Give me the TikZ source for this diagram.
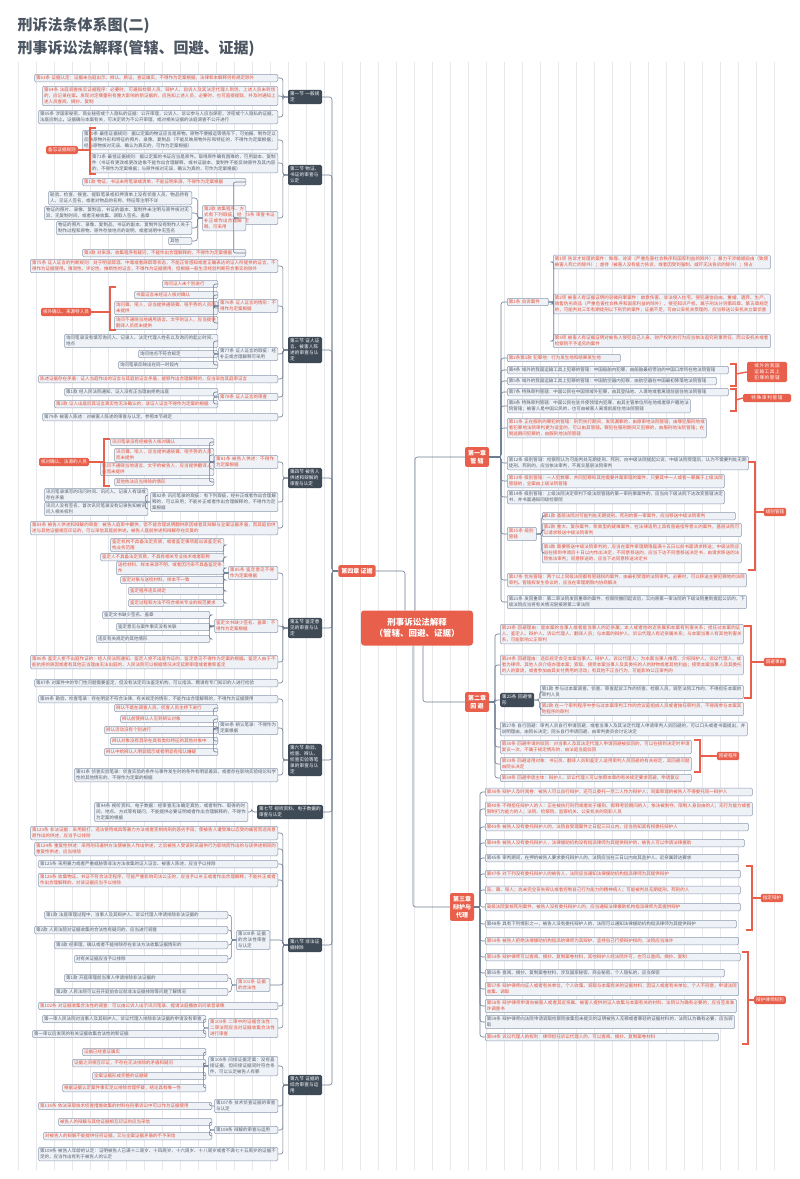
\documentclass[tikz,border=0pt]{standalone}
\usepackage{fontspec}
\setmainfont{Noto Sans CJK SC}
\XeTeXlinebreaklocale "zh"
\XeTeXlinebreakskip=0pt plus 1pt
\definecolor{org}{HTML}{E8604C}
\definecolor{rtx}{HTML}{E5503A}
\definecolor{gtx}{HTML}{55606E}
\definecolor{bd}{HTML}{8E9BB0}
\definecolor{bf}{HTML}{EEF1F6}
\definecolor{dk}{HTML}{3F4A57}
\definecolor{ln}{HTML}{6F7D92}
\definecolor{gr}{HTML}{E6E8EC}
\tikzset{
 base/.style={draw=bd,fill=bf,rounded corners=1.2,line width=0.5pt,inner sep=1.6pt,align=left,font=\fontsize{4.5}{6}\selectfont},
 gb/.style={base,text=gtx},
 rb/.style={base,text=rtx},
 tg/.style={fill=org,text=white,rounded corners=1.5,inner sep=2pt,align=center,font=\fontsize{4.6}{6}\selectfont},
 sc/.style={fill=dk,text=white,rounded corners=1.5,inner sep=2pt,align=left,font=\fontsize{4.6}{6}\selectfont},
 ch/.style={fill=org,text=white,rounded corners=2,inner sep=3pt,align=center,font=\fontsize{6}{8}\selectfont\bfseries},
 conn/.style={draw=ln,line width=0.6pt,rounded corners=2.5},
 ob/.style={draw=org,line width=1.4pt},
}
\newcommand\LL[6]{\node[#2,anchor=east,text width=#5] (#1) at (#3,#4) {#6};}
\newcommand\RL[6]{\node[#2,anchor=west,text width=#5] (#1) at (#3,#4) {#6};}
\newcommand\cl[2]{\draw[conn] (#1.west) -- ++(-5,0) |- (#2.east);}
\newcommand\cR[2]{\draw[conn] (#1.east) -- ++(5,0) |- (#2.west);}
\begin{document}
\begin{tikzpicture}[x=1pt,y=-1pt]
\useasboundingbox (0,0) rectangle (800,1179);
\fill[white] (0,0) rectangle (800,1179);
\draw[gr,line width=0.4pt] (12,62) grid[step=18] (790,1170);
\node[anchor=west,font=\fontsize{15}{17}\selectfont\bfseries,text=gtx!90!black] at (14,26) {刑诉法条体系图(二)};
\node[anchor=west,font=\fontsize{15}{17}\selectfont\bfseries,text=gtx!90!black] at (14,49) {刑事诉讼法解释(管辖、回避、证据)};
% center
\node[fill=org,text=white,rounded corners=3,minimum width=112,minimum height=35,align=center,font=\fontsize{8.5}{11}\selectfont\bfseries] (C) at (417,628) {刑事诉讼法解释\\（管辖、回避、证据）};
\node[ch] (ch4) at (357,571) {第四章 证据};
\node[ch] (ch1) at (477,457) {第一章\\管 辖};
\node[ch] (ch2) at (477,702) {第二章\\回 避};
\node[ch] (ch3) at (462,907) {第三章\\辩护与\\代理};
\draw[conn] ([xshift=-12pt]C.north) |- (ch4.east);
\draw[conn] ([xshift=-2pt]C.north) |- (ch1.west);
\draw[conn] ([xshift=6pt]C.south) |- (ch2.west);
\draw[conn] ([xshift=-4pt]C.south) |- (ch3.west);
% sections
\node[sc,text width=30] (s1) at (305,97) {第一节 一般规定};
\node[sc,text width=30] (s2) at (305,175) {第二节 物证、书证的审查与认定};
\node[sc,text width=30] (s3) at (305,350) {第三节 证人证言、被害人陈述的审查与认定};
\node[sc,text width=30] (s4) at (305,478) {第四节 被告人供述和辩解的审查与认定};
\node[sc,text width=30] (s5) at (305,628) {第五节 鉴定意见的审查与认定};
\node[sc,text width=30] (s6) at (305,760) {第六节 勘验、检查、辨认、侦查实验等笔录的审查与认定};
\node[sc,text width=62] (s7) at (290,812) {第七节 视听资料、电子数据的审查与认定};
\node[sc,text width=30] (s8) at (305,945) {第八节 非法证据排除};
\node[sc,text width=30] (s9) at (305,1085) {第九节 证据的综合审查与运用};
\foreach \s in {s1,s2,s3,s4,s5,s6,s7,s8,s9}{\draw[conn] (ch4.west) -- (332,571) |- (\s.east);}
% ---- section 1
\LL{a1}{rb}{278}{78}{240}{第61条 证据认定：证据未当庭出示、辨认、质证，查证属实，不得作为定案根据，法律和本解释另有规定除外}
\LL{a2}{rb}{278}{96}{232}{第64条 法庭调查核实证据程序：必要时，可通知检察人员、辩护人、自诉人及其法定代理人到场，上述人员未到场的，应记录在案。发现对定罪量刑有重大影响的新证据的，应告知上述人员，必要时，也可直接提取，并及时通知上述人员查阅、摘抄、复制}
\LL{a3}{gb}{278}{117}{236}{第65条 涉国家秘密、商业秘密或个人隐私的证据：公开审理，公诉人、诉讼参与人应当保密，涉密或个人隐私的证据，法庭应制止。证据确与本案有关，可决定转为不公开审理，或对相关证据的法庭调查不公开进行}
\foreach \c in {a1,a2,a3}{\cl{s1}{\c}}
% ---- section 2
\LL{b1}{gb}{278}{140}{192}{第70条 最佳证据规则：据以定案的物证应当是原物。原物不便搬运等情形下，可拍摄、制作足以反映原物外形和特征的照片、录像、复制品（不能反映原物外形和特征的，不得作为定案根据；经与原物核对无误、确认为真实的，可作为定案根据）}
\LL{b2}{gb}{278}{163}{184}{第71条 最佳证据规则：据以定案的书证应当是原件。取得原件确有困难的，可用副本、复制件（书证有更改或更改迹象不能作出合理解释，或书证副本、复制件不能反映原件及其内容的，不得作为定案根据；与原件核对无误，确认为真的，可作为定案根据）}
\node[tg] (tb) at (62,150) {备忘证据规则};
\draw[ob] (96,128) -- (90,128) -- (90,174) -- (96,174); \draw[ob] (tb.east) -- (90,150);
\LL{b3}{rb}{278}{218}{36}{第73条 审查书证规定}
\LL{c1}{rb}{246}{182}{160}{第1款 物证、书证未附笔录或清单，不能证明来源，不得作为定案根据}
\LL{c2}{rb}{246}{218}{40}{第2款 收集程序、方式有下列瑕疵，经补正或作出合理解释，可采用}
\LL{c3}{rb}{246}{253}{160}{第3款 对来源、收集程序有疑问，不能作出合理解释的，不得作为定案根据}
\foreach \c in {b1,b2,b3}{\cl{s2}{\c}}
\foreach \c in {c1,c2,c3}{\cl{b3}{\c}}
\LL{c21}{gb}{192}{198}{140}{勘验、检查、搜查、提取笔录或扣押清单上没有侦查人员、物品持有人、见证人签名，或者对物品的名称、特征等注明不详}
\LL{c22}{gb}{192}{213}{144}{物证的照片、录像、复制品，书证的副本、复制件未注明与原件核对无异，无复制时间，或者无被收集、调取人签名、盖章}
\LL{c23}{gb}{192}{228}{132}{物证的照片、录像、复制品，书证的副本、复制件没有制作人关于制作过程和原物、原件存放地点的说明，或者说明中无签名}
\LL{c24}{gb}{192}{241}{20}{其他}
\foreach \c in {c21,c22,c23,c24}{\cl{c2}{\c}}
% ---- section 3
\LL{d1}{rb}{278}{266}{244}{第75条 证人证言的判断规则：处于明显醉酒、中毒或者麻醉等状态，不能正常感知或者正确表达的证人所提供的证言，不得作为证据使用。猜测性、评论性、推断性的证言，不得作为证据使用，但根据一般生活经验判断符合事实的除外}
\LL{d2}{rb}{278}{306}{56}{第76条 证人证言的情形：不得作为定案根据}
\LL{d21}{rb}{218}{284}{52}{询问证人未个别进行}
\LL{d22}{rb}{218}{295}{80}{书面证言未经证人核对确认}
\LL{d23}{rb}{218}{308}{100}{询问聋、哑人，应当提供通晓聋、哑手势的人员而未提供}
\LL{d24}{rb}{218}{323}{100}{询问不通晓当地通用语言、文字的证人，应当提供翻译人员而未提供}
\foreach \c in {d21,d22,d23,d24}{\cl{d2}{\c}}
\node[tg] (td) at (66,312) {核外确认、来源特人员};
\draw[ob] (116,287) -- (110,287) -- (110,330) -- (116,330); \draw[ob] (td.east) -- (110,312);
\LL{d3}{gb}{278}{354}{56}{第77条 证人证言的瑕疵：经补正或合理解释可采用}
\LL{d31}{gb}{218}{341}{150}{询问笔录没有填写询问人、记录人、法定代理人姓名以及询问的起止时间、地点}
\LL{d32}{gb}{218}{354}{76}{询问地点不符合规定}
\LL{d33}{gb}{218}{365}{96}{询问笔录反映出在同一时段内}
\foreach \c in {d31,d32,d33}{\cl{d3}{\c}}
\LL{d4}{rb}{278}{379}{236}{陈述证据存在矛盾：证人当庭作出的证言与其庭前证言矛盾，能够作出合理解释的，应当采信其庭审证言}
\LL{d5}{rb}{278}{397}{56}{第78条 证人证言的审查}
\LL{d51}{gb}{218}{392}{150}{第1款 经人民法院通知，证人没有正当理由拒绝出庭}
\LL{d52}{rb}{218}{404}{160}{第2款 证人出庭后其证言真实性无法确认的，该证人证言不得作为定案的根据}
\foreach \c in {d51,d52}{\cl{d5}{\c}}
\LL{d6}{gb}{278}{417}{232}{第79条 被害人陈述：对被害人陈述的审查与认定，参照本节规定}
\foreach \c in {d1,d2,d3,d4,d5,d6}{\cl{s3}{\c}}
% ---- section 4
\LL{e1}{rb}{278}{462}{60}{第81条 被告人供述：不得作为定案根据}
\LL{e11}{rb}{214}{442}{100}{讯问笔录没有经被告人核对确认}
\LL{e12}{rb}{214}{455}{96}{讯问聋、哑人，应当提供通晓聋、哑手势的人员而未提供}
\LL{e13}{rb}{214}{469}{110}{讯问不通晓当地语言、文字的被告人，应当提供翻译人员而未提供}
\LL{e14}{rb}{214}{482}{96}{其他依法应当排除的情形}
\foreach \c in {e11,e12,e13,e14}{\cl{e1}{\c}}
\node[tg] (te) at (64,462) {核对确认、法源的人员};
\draw[ob] (110,439) -- (104,439) -- (104,486) -- (110,486); \draw[ob] (te.east) -- (104,462);
\LL{e2}{gb}{278}{502}{124}{第82条 讯问笔录的瑕疵：有下列瑕疵，经补正或者作出合理解释的，可以采用；不能补正或者作出合理解释的，不得作为定案根据}
\LL{e21}{gb}{148}{495}{100}{讯问笔录填写的讯问时间、讯问人、记录人有误或存在矛盾}
\LL{e22}{gb}{148}{509}{100}{讯问人没有签名，首次讯问笔录没有记录告知被讯问人相关权利}
\foreach \c in {e21,e22}{\cl{e2}{\c}}
\LL{e3}{rb}{278}{528}{244}{第83条 被告人供述和辩解的审查：被告人庭审中翻供，但不能合理说明翻供原因或者其辩解与全案证据矛盾，而其庭前供述与其他证据相互印证的，可以采信其庭前供述。被告人庭前供述和辩解存在反复的}
\foreach \c in {e1,e2,e3}{\cl{s4}{\c}}
% ---- section 5
\LL{f1}{rb}{278}{573}{46}{第85条 鉴定意见不得作为定案根据}
\foreach \yy/\w/\t in {545/110/鉴定机构不具备法定资质，或者鉴定事项超出该鉴定机构业务范围,557/120/鉴定人不具备法定资质，不具有相关专业技术或者职称,568/104/送检材料、样本来源不明，或者因污染不具备鉴定条件,580/100/鉴定对象与送检材料、样本不一致,591/92/鉴定程序违反规定,603/92/鉴定过程和方法不符合相关专业的规范要求}{\LL{f1x\yy}{rb}{224}{\yy}{\w}{\t}\cl{f1}{f1x\yy}}
\LL{f2}{rb}{278}{626}{60}{鉴定文书缺少签名、盖章：不得作为定案根据}
\foreach \yy/\w/\t in {615/104/鉴定文书缺少签名、盖章,627/90/鉴定意见与案件事实没有关联,639/110/违反有关规定的其他情形}{\LL{f2x\yy}{gb}{210}{\yy}{\w}{\t}\cl{f2}{f2x\yy}}
\LL{f3}{rb}{278}{662}{244}{第86条 鉴定人拒不出庭作证的：经人民法院通知，鉴定人拒不出庭作证的，鉴定意见不得作为定案的根据。鉴定人由于不能抗拒的原因或者有其他正当理由无法出庭的，人民法院可以根据情况决定延期审理或者重新鉴定}
\LL{f4}{gb}{278}{683}{240}{第87条 对案件中的专门性问题需要鉴定，但没有法定司法鉴定机构，可以指派、聘请有专门知识的人进行检验}
\foreach \c in {f1,f2,f3,f4}{\cl{s5}{\c}}
% ---- section 6
\LL{g0}{gb}{278}{699}{236}{第89条 勘验、检查笔录：存在明显不符合法律、有关规定的情形，不能作出合理解释的，不得作为证据使用}
\LL{g1}{gb}{278}{728}{56}{第90条 辨认笔录：不得作为定案根据}
\foreach \yy/\w/\t in {708/100/辨认不是在调查人员、侦查人员主持下进行,719/94/辨认前使辨认人见到辨认对象,730/110/辨认活动没有个别进行,741/104/辨认对象没有混杂在具有类似特征的其他对象中,752/110/辨认中给辨认人明显暗示或者明显有指认嫌疑}{\LL{g1x\yy}{rb}{218}{\yy}{\w}{\t}\cl{g1}{g1x\yy}}
\LL{g2}{gb}{278}{775}{200}{第91条 侦查实验笔录：侦查实验的条件与事件发生时的条件有明显差异，或者存在影响实验结论科学性的其他情形的，不得作为定案的根据}
\foreach \c in {g0,g1,g2}{\cl{s6}{\c}}
% ---- section 7
\LL{k1}{gb}{248}{812}{150}{第94条 视听资料、电子数据：经审查无法确定真伪，或者制作、取得的时间、地点、方式等有疑问，不能提供必要证明或者作出合理解释的，不得作为定案的根据}
\cl{s7}{k1}
% ---- section 8
\LL{h1}{rb}{278}{833}{244}{第123条 非法证据：采用殴打、违法使用戒具等暴力方法或者变相肉刑的恶劣手段，使被告人遭受难以忍受的痛苦而违背意愿作出的供述，应当予以排除}
\LL{h2}{rb}{278}{849}{240}{第124条 重复性供述：采用刑讯逼供方法使被告人作出供述，之后被告人受该刑讯逼供行为影响而作出的与该供述相同的重复性供述，应当排除}
\LL{h3}{gb}{278}{864}{236}{第125条 采用暴力或者严重威胁等非法方法收集的证人证言、被害人陈述，应当予以排除}
\LL{h4}{rb}{278}{880}{236}{第126条 收集物证、书证不符合法定程序，可能严重影响司法公正的，应当予以补正或者作出合理解释；不能补正或者作出合理解释的，对该证据应当予以排除}
\LL{h5}{gb}{270}{940}{30}{第100条 证据的合法性审查与认定}
\foreach \yy/\w/\t in {915/180/第1款 法庭审理过程中，当事人及其辩护人、诉讼代理人申请排除非法证据的,930/190/第2款 人民法院对证据收集的合法性有疑问的，应当进行调查,945/170/第3款 经审理，确认或者不能排除存在非法方法收集证据情形的,959/150/对有关证据应当予以排除}{\LL{h5x\yy}{gb}{228}{\yy}{\w}{\t}\cl{h5}{h5x\yy}}
\LL{h6}{rb}{270}{985}{30}{第101条 证据的合法性}
\foreach \yy/\w/\t in {978/160/第1款 开庭审理前当事人申请排除非法证据的,992/170/第2款 人民法院可以召开庭前会议就非法证据排除等问题了解情况}{\LL{h6x\yy}{gb}{228}{\yy}{\w}{\t}\cl{h6}{h6x\yy}}
\LL{h7}{rb}{278}{1006}{236}{第102条 对证据收集合法性的调查：可以由公诉人出示讯问笔录、提请法庭播放讯问录音录像}
\LL{h8}{rb}{278}{1028}{66}{第103条 二审中的证据合法性：二审法院应当对证据收集合法性进行审查}
\foreach \yy/\w/\t in {1019/160/第一审人民法院对当事人及其辩护人、诉讼代理人排除非法证据的申请没有审查,1034/170/第一审以后发现的有关证据收集合法性的新证据}{\LL{h8x\yy}{gb}{206}{\yy}{\w}{\t}\cl{h8}{h8x\yy}}
\foreach \c in {h1,h2,h3,h4,h5,h6,h7,h8}{\cl{s8}{\c}}
% ---- section 9
\LL{i1}{gb}{278}{1066}{66}{第105条 间接证据定案：没有直接证据，但间接证据同时符合条件，可以认定被告人有罪}
\foreach \yy/\w/\t in {1052/120/证据已经查证属实,1063/130/证据之间相互印证，不存在无法排除的矛盾和疑问,1076/110/全案证据形成完整的证据链,1088/140/根据证据认定案件事实足以排除合理怀疑，结论具有唯一性}{\LL{i1x\yy}{rb}{206}{\yy}{\w}{\t}\cl{i1}{i1x\yy}}
\LL{i2}{gb}{278}{1106}{60}{第107条 技术侦查证据的审查与认定}
\LL{i21}{rb}{212}{1106}{170}{第116条 依法采取技术侦查措施收集的材料在刑事诉讼中可以作为证据使用}
\cl{i2}{i21}
\LL{i3}{gb}{278}{1130}{60}{第108条 辩解的审查与运用}
\foreach \yy/\w/\t in {1122/150/被告人的辩解与其他证据相互印证的应当采信,1136/165/对被告人的辩解不能提供任何证据，又与全案证据矛盾的不予采信}{\LL{i3x\yy}{rb}{212}{\yy}{\w}{\t}\cl{i3}{i3x\yy}}
\LL{i4}{gb}{278}{1154}{236}{第109条 被告人年龄的认定：证明被告人已满十二周岁、十四周岁、十六周岁、十八周岁或者不满七十五周岁的证据不足的，应当作出有利于被告人的认定}
\foreach \c in {i1,i2,i3,i4}{\cl{s9}{\c}}
% ================= RIGHT: chapter 1
\RL{r1}{rb}{507}{302}{38}{第1条 自诉案件}
\RL{r11}{rb}{553}{262}{214}{第1项 告诉才处理的案件：侮辱、诽谤（严重危害社会秩序和国家利益的除外）；暴力干涉婚姻自由（致使被害人死亡的除外）；虐待（被害人没有能力告诉，或者因受到强制、威吓无法告诉的除外）；侵占}
\RL{r12}{rb}{553}{304}{214}{第2项 被害人有证据证明的轻微刑事案件：故意伤害、非法侵入住宅、侵犯通信自由、重婚、遗弃、生产、销售伪劣商品（严重危害社会秩序和国家利益的除外）、侵犯知识产权、属于刑法分则第四章、第五章规定的，可能判处三年有期徒刑以下刑罚的案件；证据不足，可由公安机关受理的，应当移送公安机关立案侦查}
\RL{r13}{rb}{553}{341}{214}{第3项 被害人有证据证明对被告人侵犯自己人身、财产权利的行为应当依法追究刑事责任，而公安机关或者检察院不予追究的案件}
\foreach \c in {r11,r12,r13}{\cR{r1}{\c}}
\RL{r2}{rb}{507}{358}{110}{第2条第1款 犯罪地：行为发生地和结果发生地}
\RL{r3}{gb}{507}{370}{218}{第4条 域外的我国运输工具上犯罪的管辖：中国船舶内犯罪，由船舶最初停泊的中国口岸所在地法院管辖}
\RL{r4}{gb}{507}{381}{206}{第5条 域外的我国运输工具上犯罪的管辖：中国航空器内犯罪，由航空器在中国最初降落地法院管辖}
\RL{r5}{gb}{507}{392}{218}{第7条 特殊审判管辖：中国公民在中国领域外犯罪，由其登陆地、入境地或者离境前居住地法院管辖}
\RL{r6}{gb}{507}{406}{180}{第8条 特殊审判管辖：中国公民在驻外使领馆内犯罪，由其主管单位所在地或者原户籍地法院管辖；被害人是中国公民的，也可由被害人离境前居住地法院管辖}
\node[tg,text width=36] (t1) at (767,372) {域外的我国运输工具上犯罪的管辖};
\node[tg,text width=44] (t2) at (767,398) {特殊审判管辖};
\draw[ob] (730,364) -- (736,364) -- (736,386) -- (730,386); \draw[ob] (736,374) -- (t1.west);
\draw[ob] (730,389) -- (736,389) -- (736,411) -- (730,411); \draw[ob] (736,400) -- (t2.west);
\RL{r7}{rb}{507}{428}{196}{第11条 正在服刑的罪犯的管辖：刑罚执行期间，发现漏罪的，由原审地法院管辖；由罪犯服刑地或者犯罪地法院审判更为适宜的，可以由其管辖。罪犯在服刑期间又犯罪的，由服刑地法院管辖；在脱逃期间犯罪的，由服刑地法院管辖}
\RL{r8}{gb}{507}{463}{238}{第12条 级别管辖：检察院认为可能判处无期徒刑、死刑，向中级法院提起公诉，中级法院受理后，认为不需要判处无期徒刑、死刑的，应当依法审判，不再交基层法院审判}
\RL{r9}{rb}{507}{481}{214}{第13条 级别管辖：一人犯数罪、共同犯罪和其他需要并案审理的案件，只要其中一人或者一罪属于上级法院管辖的，全案由上级法院管辖}
\RL{r10}{gb}{507}{497}{214}{第14条 级别管辖：上级法院决定审判下级法院管辖的第一审刑事案件的，应当向下级法院下达改变管辖决定书，并书面通知同级检察院}
\RL{r14}{rb}{507}{534}{26}{第15条 级别管辖}
\RL{r141}{rb}{542}{516}{190}{第1款 基层法院对可能判处无期徒刑、死刑的第一审案件，应当移送中级法院审判}
\RL{r142}{rb}{542}{530}{196}{第2款 重大、复杂案件，新类型的疑难案件，在法律适用上具有普遍指导意义的案件，基层法院可以请求移送中级法院审判}
\RL{r143}{rb}{542}{553}{196}{第3款 需要移送中级法院审判的，应当在案件审理期限届满十五日以前书面请求移送；中级法院应当在接到申请后十日以内作出决定，不同意移送的，应当下达不同意移送决定书，由请求移送的法院依法审判；同意移送的，应当下达同意移送决定书}
\foreach \c in {r141,r142,r143}{\cR{r14}{\c}}
\RL{r15}{rb}{507}{580}{236}{第17条 优先管辖：两个以上同级法院都有管辖权的案件，由最初受理的法院审判。必要时，可以移送主要犯罪地的法院审判。管辖权发生争议的，应当在审理期限内协商解决}
\RL{r16}{gb}{507}{602}{236}{第21条 发回重审：第二审法院发回重审的案件，检察院撤回起诉后，又向原第一审法院的下级法院重新提起公诉的，下级法院应当将有关情况层报原第二审法院}
\node[tg] (t3) at (775,512) {级别管辖};
\draw[ob] (748,462) -- (755,462) -- (755,570) -- (748,570); \draw[ob] (755,512) -- (t3.west);
\foreach \c in {r1,r2,r3,r4,r5,r6,r7,r8,r9,r10,r14,r15,r16}{\draw[conn] (ch1.east) -- (501,457) |- (\c.west);}
% ================= chapter 2
\RL{q1}{rb}{500}{634}{240}{第23条 回避理由：是本案的当事人或者是当事人的近亲属；本人或者他的近亲属和本案有利害关系；担任过本案的证人、鉴定人、辩护人、诉讼代理人、翻译人员；与本案的辩护人、诉讼代理人有近亲属关系；与本案当事人有其他利害关系，可能影响公正审判}
\RL{q2}{rb}{500}{665}{240}{第24条 回避理由：违反规定会见本案当事人、辩护人、诉讼代理人；为本案当事人推荐、介绍辩护人、诉讼代理人，或者为律师、其他人员介绍办理本案；索取、接受本案当事人及其委托的人的财物或者其他利益；接受本案当事人及其委托的人的宴请，或者参加由其支付费用的活动；有其他不正当行为，可能影响公正审判的}
\RL{q3}{sc}{500}{700}{30}{第25条 回避情形}
\RL{q31}{gb}{540}{692}{200}{第1款 参与过本案调查、侦查、审查起诉工作的侦查、检察人员，调至法院工作的，不得担任本案的审判人员}
\RL{q32}{rb}{540}{709}{200}{第2款 在一个审判程序中参与过本案审判工作的合议庭组成人员或者独任审判员，不得再参与本案其他程序的审判}
\foreach \c in {q31,q32}{\cR{q3}{\c}}
\RL{q4}{gb}{500}{729}{244}{第27条 自行回避：审判人员自行申请回避，或者当事人及其法定代理人申请审判人员回避的，可以口头或者书面提出，并说明理由，由院长决定；院长自行申请回避，由审判委员会讨论决定}
\RL{q5}{rb}{500}{747}{188}{第30条 回避申请的驳回：对当事人及其法定代理人申请回避被驳回的，可以在接到决定时申请复议一次，不属于规定情形的，由法庭当庭驳回}
\RL{q6}{rb}{500}{764}{188}{第33条 回避适用对象：书记员、翻译人员和鉴定人适用审判人员回避的有关规定，其回避问题由院长决定}
\RL{q7}{rb}{500}{778}{188}{第34条 回避申请主体：辩护人、诉讼代理人可以依照本章的有关规定要求回避、申请复议}
\node[tg] (t4) at (775,662) {回避事由};
\draw[ob] (744,626) -- (751,626) -- (751,698) -- (744,698); \draw[ob] (751,662) -- (t4.west);
\node[tg] (t5) at (728,756) {回避程序};
\draw[ob] (694,740) -- (700,740) -- (700,772) -- (694,772); \draw[ob] (700,756) -- (t5.west) ;
\foreach \c in {q1,q2,q3,q4,q5,q6,q7}{\draw[conn] (ch2.east) -- (495,702) |- (\c.west);}
% ================= chapter 3
\foreach \n/\st/\yy/\w/\t in {
p1/rb/792/264/第36条 辩护人及时阅卷：被告人可以自行辩护，还可以委托一至二人作为辩护人；同案审理的被告人不得委托同一辩护人,
p2/rb/809/264/第40条 不得担任辩护人的人：正在被执行刑罚或者处于缓刑、假释考验期间的人；依法被剥夺、限制人身自由的人；无行为能力或者限制行为能力的人；法院、检察院、监察机关、公安机关的现职人员,
p3/rb/827/260/第43条 被告人没有委托辩护人的，法院自受理案件之日起三日以内，应当告知其有权委托辩护人,
p4/rb/843/256/第44条 被告人没有委托辩护人，法律援助机构没有指派律师为其提供辩护的，被告人可以申请法律援助,
p5/gb/858/250/第45条 审判期间，在押的被告人要求委托辩护人的，法院应当在三日以内向其监护人、近亲属转达要求,
p6/rb/874/252/第47条 对下列没有委托辩护人的被告人，法院应当通知法律援助机构指派律师为其提供辩护,
p7/rb/890/252/盲、聋、哑人；尚未完全丧失辨认或者控制自己行为能力的精神病人；可能被判处无期徒刑、死刑的人,
p8/rb/907/252/高级法院复核死刑案件，被告人没有委托辩护人的，应当通知法律援助机构指派律师为其提供辩护,
p9/gb/924/248/第48条 具有下列情形之一，被告人没有委托辩护人的，法院可以通知法律援助机构指派律师为其提供辩护,
p10/rb/941/250/第50条 被告人拒绝法律援助机构指派的律师为其辩护，坚持自己行使辩护权的，法院应当准许,
p11/rb/957/252/第53条 辩护律师可以查阅、摘抄、复制案卷材料，其他辩护人经法院许可，也可以查阅、摘抄、复制,
p12/gb/973/236/第55条 查阅、摘抄、复制案卷材料，涉及国家秘密、商业秘密、个人隐私的，应当保密,
p13/rb/989/250/第57条 辩护律师向证人或者有关单位、个人收集、调取与本案有关的证据材料，因证人或者有关单位、个人不同意，申请法院收集、调取,
p14/rb/1006/248/第58条 辩护律师申请向被害人或者其近亲属、被害人提供的证人收集与本案有关的材料，法院认为确有必要的，应当签发准许调查书,
p15/gb/1022/246/第59条 辩护律师向法院申请调取检察院收集但未提交的证明被告人无罪或者罪轻的证据材料的，法院认为确有必要，应当调取,
p16/rb/1037/230/第64条 诉讼代理人的权利：律师担任诉讼代理人的，可以查阅、摘抄、复制案卷材料}
{\RL{\n}{\st}{485}{\yy}{\w}{\t}\draw[conn] (ch3.east) -- (480,907) |- (\n.west);}
\node[tg] (t6) at (772,898) {指定辩护};
\draw[ob] (746,866) -- (752,866) -- (752,930) -- (746,930); \draw[ob] (752,898) -- (t6.west);
\node[tg] (t7) at (770,1000) {辩护律师权利};
\draw[ob] (742,952) -- (748,952) -- (748,1044) -- (742,1044); \draw[ob] (748,1000) -- (t7.west);
\end{tikzpicture}
\end{document}
